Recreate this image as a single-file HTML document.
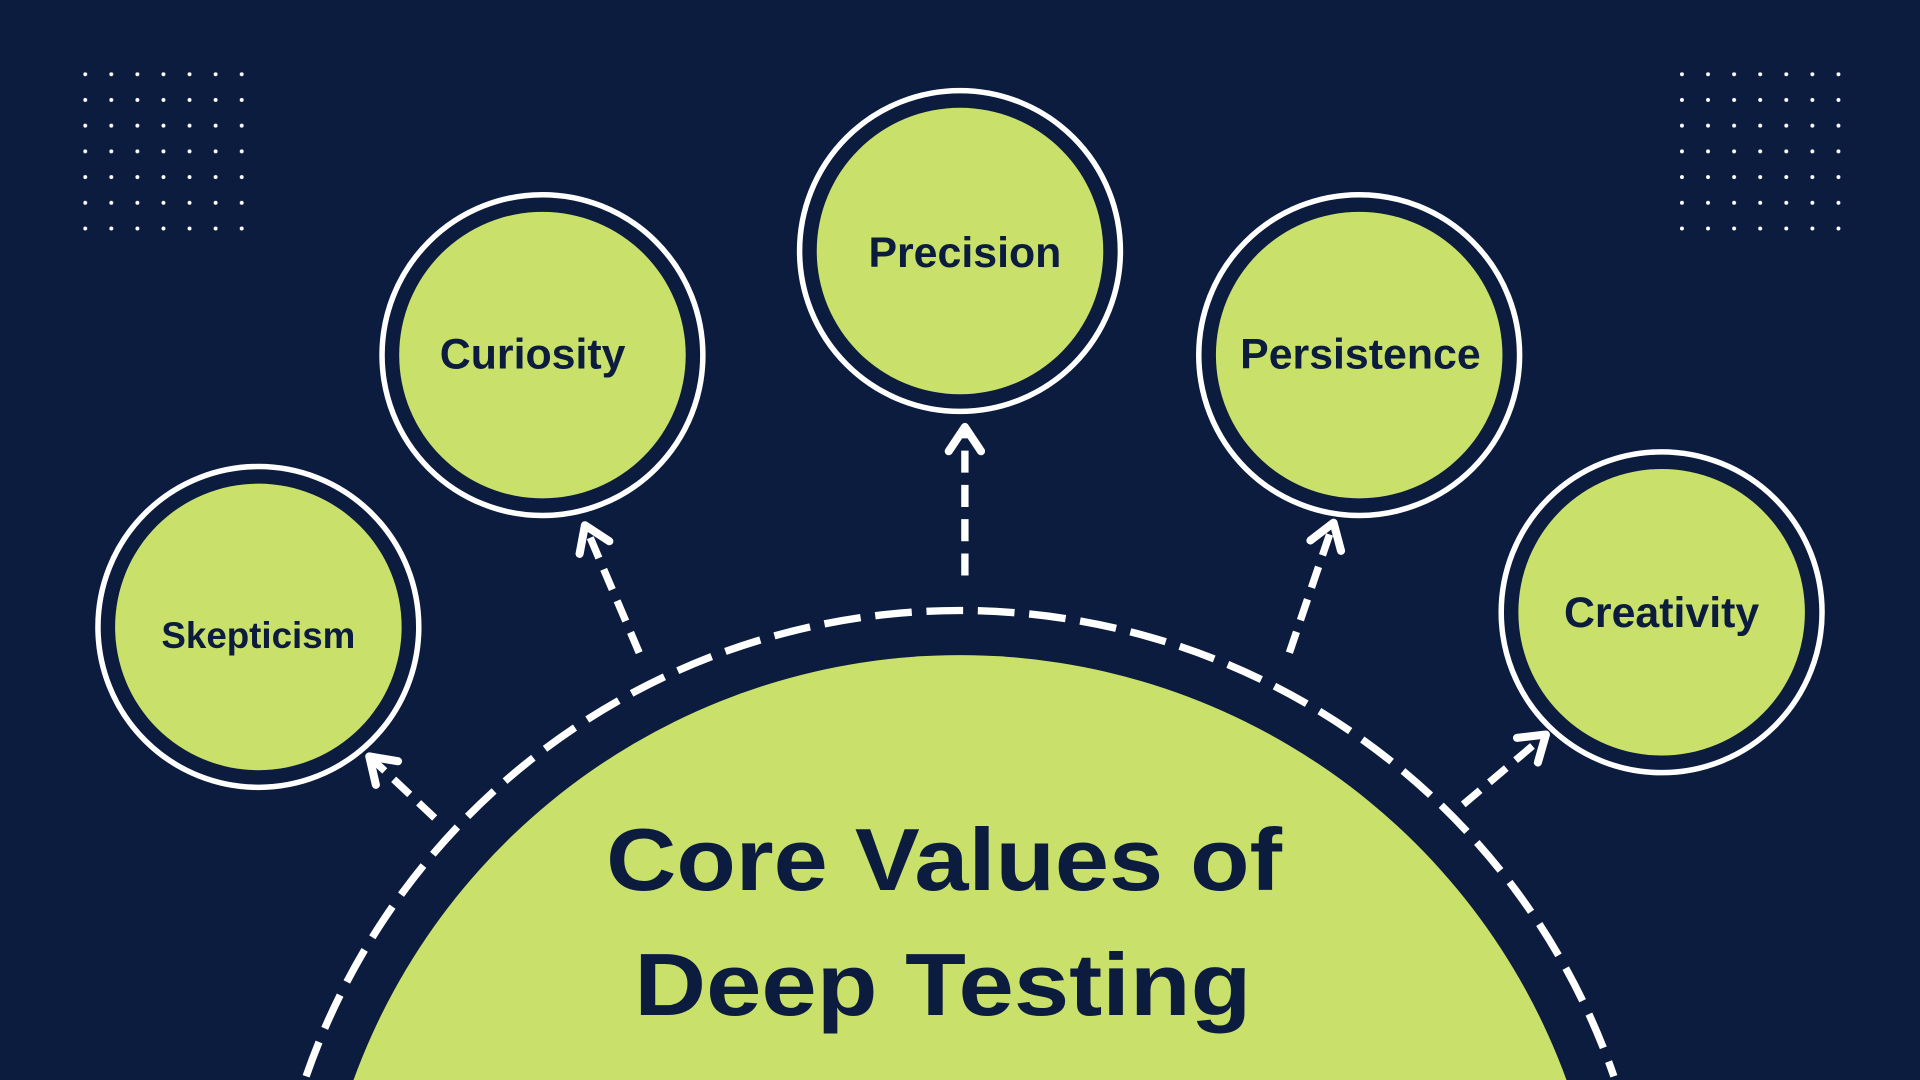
<!DOCTYPE html>
<html><head><meta charset="utf-8"><style>
html,body{margin:0;padding:0;background:#0b1c3e;overflow:hidden;width:1920px;height:1080px}
svg{display:block;position:absolute;left:0;top:0}
text{font-family:"Liberation Sans",sans-serif;fill:#0b1c3e;text-anchor:middle}
</style></head><body>
<svg width="1920" height="1080" viewBox="0 0 1568 882" xmlns="http://www.w3.org/2000/svg">
<defs>
<pattern id="dots" x="68" y="59" width="21.3" height="21" patternUnits="userSpaceOnUse">
<circle cx="1.6" cy="1.6" r="1.6" fill="#fff"/>
</pattern>
<pattern id="dots2" x="1372" y="59" width="21.3" height="21" patternUnits="userSpaceOnUse">
<circle cx="1.6" cy="1.6" r="1.6" fill="#fff"/>
</pattern>
<marker id="ah" viewBox="0 0 10 10" refX="6" refY="5" markerWidth="5.5" markerHeight="5.5" orient="auto">
<path d="M1,1 L7,5 L1,9" fill="none" stroke="#fff" stroke-width="2" stroke-linecap="round" stroke-linejoin="round"/>
</marker>
</defs>
<rect width="1568" height="882" fill="#0b1c3e"/>
<rect x="68" y="59" width="134" height="132" fill="url(#dots)"/>
<rect x="1372" y="59" width="134" height="132" fill="url(#dots2)"/>
<path d="M250,879 A565,565 0 0 1 1318,879" fill="none" stroke="#fff" stroke-width="6" stroke-dasharray="30 12"/>
<path d="M288.7,882 A527,527 0 0 1 1279.3,882 Z" fill="#c9e06a"/>
<g stroke="#fff" stroke-width="6" stroke-dasharray="18 10" fill="none" marker-end="url(#ah)">
<line x1="788" y1="470" x2="788" y2="352"/>
<line x1="522" y1="533" x2="479" y2="432"/>
<line x1="1053" y1="533" x2="1088" y2="430"/>
<line x1="355" y1="668" x2="304" y2="620"/>
<line x1="1195" y1="657" x2="1260" y2="602"/>
</g>
<g stroke="#fff" stroke-width="4.5">
<circle cx="784" cy="205" r="131" fill="none"/>
<circle cx="443" cy="290" r="131" fill="none"/>
<circle cx="1110" cy="290" r="131" fill="none"/>
<circle cx="211" cy="512" r="131" fill="none"/>
<circle cx="1357" cy="500" r="131" fill="none"/>
</g>
<g fill="#c9e06a">
<circle cx="784" cy="205" r="117"/>
<circle cx="443" cy="290" r="117"/>
<circle cx="1110" cy="290" r="117"/>
<circle cx="211" cy="512" r="117"/>
<circle cx="1357" cy="500" r="117"/>
</g>
<g font-size="35" font-weight="bold">
<text x="788" y="218">Precision</text>
<text x="435" y="301">Curiosity</text>
<text x="1111" y="301">Persistence</text>
<text x="211" y="529" font-size="30">Skepticism</text>
<text x="1357" y="512">Creativity</text>
</g>
<text x="771" y="727" font-size="72" font-weight="bold" textLength="552" lengthAdjust="spacingAndGlyphs">Core Values of</text>
<text x="770" y="829" font-size="72" font-weight="bold" textLength="504" lengthAdjust="spacingAndGlyphs">Deep Testing</text>
</svg>
</body></html>
